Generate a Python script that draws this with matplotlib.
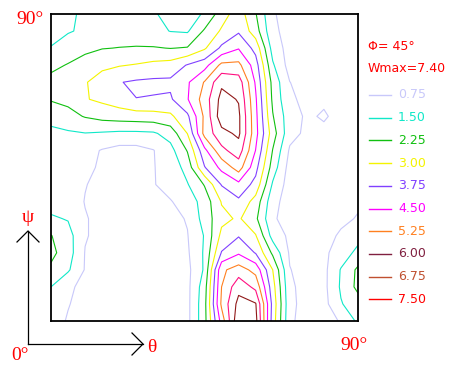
import numpy as np
import matplotlib
matplotlib.use("Agg")
import matplotlib.pyplot as plt

# ODF section, phi = 45 deg : grid at 5 deg steps (theta across, psi up)
theta = np.arange(0, 91, 5)
psi = np.arange(0, 91, 5)

# one row per psi value, psi = 0 first
density = np.array([
    [1.00, 0.70, 0.50, 0.40, 0.40, 0.40, 0.40, 0.40, 0.55, 2.00, 4.80, 7.40, 7.00, 3.40, 0.90, 0.40, 0.50, 0.80, 1.65],
    [1.20, 0.78, 0.55, 0.45, 0.40, 0.40, 0.40, 0.42, 0.55, 2.00, 5.40, 7.00, 6.80, 3.50, 0.95, 0.45, 0.50, 1.45, 1.90],
    [1.50, 0.85, 0.60, 0.45, 0.40, 0.38, 0.38, 0.42, 0.55, 1.90, 5.25, 6.50, 5.80, 3.30, 0.90, 0.45, 0.55, 1.60, 2.45],
    [2.10, 1.60, 0.70, 0.45, 0.40, 0.38, 0.38, 0.40, 0.55, 1.60, 5.10, 5.60, 5.00, 3.00, 0.78, 0.45, 0.55, 1.55, 2.40],
    [2.45, 1.85, 0.72, 0.50, 0.42, 0.38, 0.38, 0.42, 0.65, 1.60, 3.80, 4.40, 3.70, 2.10, 0.65, 0.45, 0.60, 1.10, 1.70],
    [2.28, 1.80, 0.80, 0.55, 0.45, 0.40, 0.40, 0.45, 0.72, 1.55, 3.20, 3.70, 3.05, 1.20, 0.60, 0.45, 0.50, 0.85, 1.25],
    [1.60, 1.45, 0.80, 0.55, 0.45, 0.45, 0.45, 0.55, 0.80, 1.80, 2.80, 3.10, 2.40, 0.85, 0.45, 0.45, 0.50, 0.60, 0.80],
    [1.20, 1.15, 0.72, 0.50, 0.45, 0.45, 0.55, 0.70, 1.10, 1.80, 3.05, 3.60, 2.70, 1.00, 0.40, 0.45, 0.50, 0.50, 0.65],
    [1.15, 1.10, 0.78, 0.55, 0.50, 0.50, 0.70, 1.05, 1.45, 2.30, 3.80, 4.30, 3.50, 1.40, 0.40, 0.45, 0.50, 0.50, 0.50],
    [1.10, 1.05, 0.90, 0.65, 0.55, 0.60, 0.72, 1.00, 1.80, 3.70, 4.70, 5.60, 4.00, 1.90, 0.45, 0.45, 0.50, 0.50, 0.50],
    [1.15, 1.10, 1.00, 0.70, 0.50, 0.50, 0.72, 1.25, 2.30, 4.30, 5.80, 6.40, 4.48, 2.22, 0.65, 0.50, 0.50, 0.50, 0.50],
    [1.25, 1.40, 1.48, 1.42, 1.35, 1.35, 1.40, 1.80, 3.02, 5.50, 6.50, 6.90, 4.75, 2.60, 1.00, 0.60, 0.60, 0.55, 0.50],
    [1.85, 2.00, 2.30, 2.50, 2.60, 2.65, 2.70, 2.85, 3.60, 5.40, 7.20, 6.90, 4.70, 2.30, 1.05, 0.65, 0.82, 0.55, 0.50],
    [2.30, 2.45, 2.95, 3.15, 3.40, 3.74, 3.70, 3.65, 4.45, 5.60, 7.00, 6.70, 4.60, 2.10, 0.85, 0.60, 0.65, 0.55, 0.50],
    [2.50, 2.65, 2.95, 3.30, 3.72, 3.85, 3.90, 3.90, 4.40, 5.30, 6.60, 6.40, 4.40, 2.00, 0.76, 0.50, 0.60, 0.50, 0.50],
    [2.05, 2.30, 2.60, 2.85, 2.95, 3.05, 3.20, 3.30, 3.80, 4.20, 5.45, 5.45, 4.10, 1.60, 0.45, 0.45, 0.50, 0.50, 0.50],
    [1.52, 1.80, 2.05, 2.22, 2.27, 2.30, 2.30, 2.23, 2.30, 2.90, 3.90, 4.45, 3.50, 1.20, 0.45, 0.50, 0.50, 0.50, 0.50],
    [1.35, 1.45, 1.60, 1.75, 1.85, 1.85, 1.70, 1.48, 1.42, 2.35, 3.10, 3.65, 2.60, 0.90, 0.50, 0.50, 0.50, 0.50, 0.50],
    [1.20, 1.40, 1.60, 1.75, 1.80, 1.70, 1.55, 1.35, 1.30, 1.55, 2.65, 3.40, 2.30, 0.80, 0.55, 0.50, 0.45, 0.45, 0.50],
])

levels = [0.75, 1.50, 2.25, 3.00, 3.75, 4.50, 5.25, 6.00, 6.75, 7.50]
level_labels = ["0.75", "1.50", "2.25", "3.00", "3.75", "4.50", "5.25", "6.00", "6.75", "7.50"]
# colours as they appear on the map
map_colors = ["#c8c8fa", "#10e8c8", "#10c010", "#f4f400", "#8040ff",
              "#ff00ff", "#ff8020", "#ff1080", "#901818", "#ff0000"]
# colours as they appear in the key
key_colors = ["#c8c8fa", "#10e8c8", "#10c010", "#f4f400", "#8040ff",
              "#ff00ff", "#ff8020", "#802040", "#c05030", "#ff0000"]

W, H = 457, 371
fig = plt.figure(figsize=(W / 100, H / 100), dpi=100)

# map box: 51..358 px across, 14..321 px down
ax = fig.add_axes([51 / W, 1 - 321 / H, 307 / W, 307 / H])
ax.contour(theta, psi, density, levels=levels, colors=map_colors, linewidths=0.8)
ax.set_xlim(0, 90)
ax.set_ylim(0, 90)
ax.set_xticks([])
ax.set_yticks([])
for s in ax.spines.values():
    s.set_linewidth(1.3)
    s.set_color("black")

# overlay in pixel units for the labels, arrows and the key
ov = fig.add_axes([0, 0, 1, 1])
ov.set_xlim(0, W)
ov.set_ylim(H, 0)
ov.axis("off")

serif = "Liberation Serif"
red = "#ff0000"
ov.text(30, 19, "90°", color=red, fontsize=14, family=serif, ha="center", va="center")
ov.text(354, 345, "90°", color=red, fontsize=14, family=serif, ha="center", va="center")
ov.text(20, 355, "0°", color=red, fontsize=14, family=serif, ha="center", va="center")
ov.text(152, 347, "θ", color=red, fontsize=14, family=serif, ha="center", va="center")
ov.text(28, 218, "ψ", color=red, fontsize=14, family=serif, ha="center", va="center")

# axis arrows
ov.plot([28, 28], [344, 231], color="black", lw=0.9)
ov.plot([17, 28, 39], [242, 231, 242], color="black", lw=0.9)
ov.plot([28, 143], [344, 344], color="black", lw=0.9)
ov.plot([132, 143, 132], [333, 344, 355], color="black", lw=0.9)

# key
ov.text(368, 46, "Φ= 45°", color=red, fontsize=9, ha="left", va="center")
ov.text(368, 69, "Wmax=7.40", color=red, fontsize=9, ha="left", va="center")
y0, dy = 95, 22.7
for i, (lab, col) in enumerate(zip(level_labels, key_colors)):
    y = y0 + i * dy
    ov.plot([369, 391], [y, y], color=col, lw=1.0)
    ov.text(398, y, lab, color=col, fontsize=9, ha="left", va="center")

fig.savefig("out.png", dpi=100)
